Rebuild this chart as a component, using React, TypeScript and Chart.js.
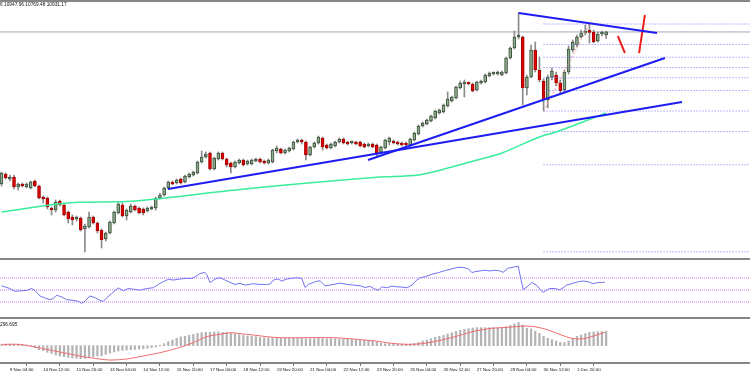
import React, { useEffect, useRef } from "react";
import { Chart, registerables } from "chart.js";
Chart.register(...registerables);

// ---- Candles (H4 bars, index 0 = 8 Nov 20:00) ----
const openP = [7130,7380,7255,7305,7055,7130,7055,7030,7205,7080,
6805,6780,6530,6480,6705,6605,6430,6305,6255,6280,
6005,6055,6305,6155,5980,5755,5905,6155,6405,6605,
6330,6430,6580,6530,6505,6455,6505,6530,6780,6855,
7030,7180,7155,7255,7180,7305,7355,7405,7680,7805,
7905,7505,7755,7905,7755,7655,7555,7655,7730,7630,
7630,7705,7755,7705,7655,7680,7955,8005,7905,7955,
8005,8180,8205,8180,7855,8055,8155,8280,8105,8030,
8080,8180,8255,8180,8155,8180,8180,8130,8080,8130,
8105,7930,8030,8180,8205,8180,8155,8155,8105,8230,
8380,8580,8630,8705,8780,8905,8930,9080,9205,9280,
9530,9630,9655,9630,9480,9655,9680,9830,9880,9880,
9855,9905,10280,10530,10805,10805,9530,9805,10480,9980,
9705,9230,9805,9855,9655,9480,9930,10480,10605,10805,
10905,10930,10930,10705,10880,10855];
const highP = [7430,7405,7355,7355,7155,7155,7155,7205,7230,7105,
6830,6805,6555,6730,6730,6630,6455,6355,6330,6305,
6130,6430,6330,6180,6005,5930,6205,6455,6680,6655,
6505,6630,6605,6555,6530,6555,6580,6805,6905,7055,
7205,7205,7255,7280,7355,7405,7455,7705,7955,7930,
7930,7805,7930,7930,7780,7680,7705,7755,7755,7730,
7755,7780,7780,7730,7755,8005,8080,8030,8005,8055,
8205,8255,8255,8205,8080,8180,8330,8305,8130,8155,
8205,8280,8280,8205,8205,8205,8205,8155,8155,8155,
8130,8080,8255,8305,8230,8205,8180,8180,8280,8430,
8605,8680,8755,8855,8980,9005,9130,9430,9330,9580,
9705,9730,9680,9655,9705,9730,9880,9930,9930,9955,
9955,10305,10555,10955,11405,10830,9855,10605,10680,10305,
9755,9855,10030,9930,9730,9980,10580,10730,10855,10980,
11105,11130,10980,10930,10955,10947.96];
const lowP = [7080,7255,7205,7005,6980,7055,7030,7005,7055,6755,
6655,6505,6355,6430,6580,6330,6155,6105,6205,5955,
5430,6030,6130,5905,5530,5705,5880,6130,6380,6305,
6230,6405,6455,6380,6355,6430,6480,6480,6755,6830,
7005,7105,7130,7130,7155,7280,7330,7380,7655,7780,
7480,7480,7730,7730,7555,7405,7530,7630,7580,7605,
7605,7680,7655,7630,7630,7655,7905,7880,7880,7930,
7980,8155,8130,7730,7830,8030,8130,7980,8005,8005,
8055,8155,8130,8105,8130,8105,8055,8030,8055,8030,
7830,7905,8005,8105,8130,8105,8080,8080,8080,8205,
8355,8555,8605,8680,8755,8880,8905,9055,9180,9255,
9505,9305,9605,9430,9455,9630,9655,9805,9855,9855,
9830,9880,10255,10505,10755,9105,9355,9780,9930,9680,
8955,9030,9730,9580,9405,9430,9880,10430,10555,10780,
10855,10655,10655,10680,10830,10769.48];
const closeP = [7405,7280,7305,7055,7130,7080,7130,7180,7080,6780,
6755,6555,6480,6680,6605,6355,6255,6230,6280,5980,
6080,6305,6155,5955,5730,5905,6180,6430,6630,6330,
6480,6580,6480,6405,6405,6530,6555,6780,6855,7030,
7180,7130,7230,7155,7330,7380,7430,7680,7805,7880,
7505,7780,7905,7755,7605,7555,7680,7730,7605,7705,
7730,7755,7680,7655,7730,7980,8030,7905,7980,8030,
8180,8205,8180,7855,8055,8155,8305,8055,8030,8130,
8180,8255,8155,8130,8180,8130,8080,8055,8130,8055,
7905,8055,8230,8280,8155,8130,8105,8105,8255,8405,
8580,8655,8730,8830,8955,8980,9105,9255,9305,9555,
9655,9655,9630,9455,9680,9705,9855,9905,9905,9930,
9930,10280,10530,10805,10830,9530,9805,10480,9980,9730,
9230,9805,9955,9655,9455,9930,10505,10680,10805,10905,
10930,10920,10680,10880,10905,10931.17];

// Moving average (read at sparse bars)
const maBars = [0, 16, 30, 37, 60, 90, 100, 108, 115, 120, 129, 133, 145];
const maValues = [6430, 6655, 6690, 6755, 7025, 7300, 7355, 7555, 7755, 7905, 8305, 8430, 8905];

// Trend lines [bar, price, bar, price]
const trendLines = [
  [124, 11405, 157.2, 10905],
  [87.9, 7730, 159.1, 10280],
  [39.9, 7005, 163.2, 9180],
];
const redStrokes = [
  [147.8, 10830, 149.5, 10405],
  [152.9, 10405, 154.3, 11355],
];
// Fibonacci retracement (from bar 130 low to bar 141 high)
const fibLow = 8955, fibHigh = 11130, fibStartBar = 130, fibEndBar = 141;
const fibLevels = [0, 23.6, 38.2, 50, 61.8, 76.4, 100, 123.6, 161.8, 261.8];
const lastPrice = 10931.17;

// RSI (sparse reads)
const rsiBars = [0,2,3.2,4.4,6,7.2,8,9.2,10.4,11.6,12.4,13.2,14.4,15.6,17.2,18.4,19.2,20,21.2,22.4,23.6,24.4,25.2,26.4,28,29.2,30.4,31.6,33.2,34.8,36.4,37.6,38.8,40,41.2,42.8,44.4,45.6,46.4,47.6,48.8,49.2,50,51.2,52.4,53.6,54.8,56,57.2,58.4,60.4,62,63.6,64.4,65.2,66.4,67.2,68.4,69.6,70.8,72,72.8,73.6,75.2,76.4,77.6,78.8,80.4,81.2,82.8,84.4,86,87.2,88.4,89.6,90.4,91.2,92.4,93.6,94.8,96,97.2,98.4,99.6,100.4,101.6,103.2,104.8,106.4,108,109.2,110.4,112,112.8,113.6,114.8,116,117.1,118.3,119.5,120.3,121.5,122.7,123.9,125.1,126.3,127.1,128.3,129.1,129.9,130.7,131.5,132.7,133.9,134.7,135.5,136.7,138.3,139.5,140.7,141.9,142.7,143.9,144.7];
const rsiValues = [57,52.5,48,48.6,49.2,52.5,49.2,40.1,36.8,34,35.6,41.3,38.5,34,32.8,31.1,27.8,31.1,40.1,37.3,32.8,31.1,36.8,44.1,53.7,48.6,52.5,51.4,49.7,52.5,53.7,59.3,63.8,67.7,66.6,68.3,69.4,69.4,71.7,77.3,79.5,76.2,62.1,68.3,70.5,66.6,62.7,59.3,61,58.2,60.4,59.3,59.3,59.8,66.6,68.3,64.9,68.3,69.4,70.5,69.4,54.2,59.3,63.8,65.5,57,58.2,60.4,61.5,59.3,58.2,57,54.2,55.9,51.4,49.7,55.3,53.7,56.5,55.3,54.8,53.7,58.2,66.6,70.5,72.2,76.2,79,82.4,85.2,87.4,88,85.2,79,80.7,81.8,82.9,81.8,82.9,81.8,79.5,86.3,88,89.7,50.8,56.5,62.7,58.2,51.4,45.8,49.7,52.5,52.5,50.3,53.7,58.2,60.4,63.8,65,63.8,60.4,62.1,62.7,62.7];
const rsiLevels = [70, 50, 30];

// MACD main (histogram, one per bar) and signal (sparse reads)
const macdHist = [12,14,15,15,14,12,8,2,-20,-46,
-58,-77,-92,-108,-119,-127,-135,-142,-146,-150,
-146,-139,-127,-119,-116,-100,-85,-73,-62,-54,
-50,-46,-42,-38,-35,-31,-23,-15,4,23,
46,65,85,100,108,119,131,142,150,154,
154,158,158,154,150,142,135,127,119,112,
108,104,96,92,89,89,89,85,85,89,
89,89,85,81,81,81,85,81,81,81,
81,77,77,77,73,69,65,62,58,54,
38,27,23,23,23,19,19,19,19,27,
38,54,65,81,96,108,119,135,150,166,
177,189,196,204,208,208,208,208,208,208,
212,219,235,250,266,239,200,193,169,142,
108,85,69,54,38,38,54,85,108,123,
139,154,158,162,162,169];
const sigBars = [0,4.4,7.6,11.6,15.6,19.6,23.6,26,30,34,38,42,46,49.2,52.4,54.8,57.2,60.4,63.6,66.8,71.6,79.6,84.4,89.6,93.6,97.6,100.8,105.6,109.6,113.6,117.5,121.5,125.5,127.9,131.1,134.3,136.7,139.1,141.5,144.7];
const sigValues = [15,15,-12,-50,-89,-127,-154,-166,-154,-119,-81,-31,35,104,131,150,139,123,104,92,92,92,77,54,27,15,23,65,116,169,200,212,227,219,181,123,85,77,104,154];
const macdMaxLabel = "296.695";

// Time axis
const tickBars = [-6,2,10,18,26,34,42,50,58,66,74,82,90,98,106,114,122,130,138];
const tickLabels = ["7 Nov 20:00","9 Nov 04:00","10 Nov 12:00","11 Nov 20:00","13 Nov 04:00","14 Nov 12:00","15 Nov 20:00","17 Nov 04:00","18 Nov 12:00","19 Nov 20:00","21 Nov 04:00","22 Nov 12:00","23 Nov 20:00","25 Nov 04:00","26 Nov 12:00","27 Nov 20:00","29 Nov 04:00","30 Nov 12:00","1 Dec 20:00"];
const headerText = "6 10947.96 10769.48 10931.17";

const X_MIN = -0.36;
const X_MAX = 179.5;
const UP_FILL = "#8caa8c";
const UP_BORDER = "#3c523c";
const DN_FILL = "#dd0000";
const DN_BORDER = "#a80000";

const seg = (a: number[], color: string, width: number, order: number, dash: number[] = []) => ({
  type: "line" as const,
  data: [{ x: a[0], y: a[1] }, { x: a[2], y: a[3] }],
  borderColor: color,
  borderWidth: width,
  borderDash: dash,
  pointRadius: 0,
  order,
});

const baseOpts = (yMin: number, yMax: number) => ({
  animation: false as const,
  responsive: false,
  events: [] as any[],
  layout: { padding: 0 },
  plugins: { legend: { display: false }, tooltip: { enabled: false } },
  scales: {
    x: { type: "linear" as const, min: X_MIN, max: X_MAX, offset: false, display: false },
    y: { type: "linear" as const, min: yMin, max: yMax, display: false },
  },
});

export default function App() {
  const mainRef = useRef<HTMLCanvasElement>(null);
  const rsiRef = useRef<HTMLCanvasElement>(null);
  const macdRef = useRef<HTMLCanvasElement>(null);

  useEffect(() => {
    const idx = openP.map((_, i) => i);
    const isUp = idx.map((i) => closeP[i] >= openP[i]);
    const fibData = fibLevels.map((lv) => {
      const p = fibHigh - (lv / 100) * (fibHigh - fibLow);
      return seg([fibStartBar, p, X_MAX + 1, p], "#7373ff", 1, 3, [1, 2]);
    });

    const main = new Chart(mainRef.current!, {
      type: "bar",
      data: {
        datasets: [
          seg([X_MIN, lastPrice, X_MAX, lastPrice], "#a3acba", 1, 9) as any,
          {
            type: "bar",
            data: idx.map((i) => ({ x: i, y: [lowP[i], highP[i]] })),
            backgroundColor: "#8a8a8a",
            barThickness: 1,
            grouped: false,
            order: 6,
          },
          {
            type: "bar",
            data: idx.map((i) => ({ x: i, y: [openP[i], closeP[i]] })),
            backgroundColor: idx.map((i) => (isUp[i] ? UP_FILL : DN_FILL)),
            borderColor: idx.map((i) => (isUp[i] ? UP_BORDER : DN_BORDER)),
            borderWidth: 1,
            borderSkipped: false,
            barThickness: 3,
            minBarLength: 2,
            grouped: false,
            order: 5,
          },
          ...fibData,
          seg([fibStartBar, fibLow, fibEndBar, fibHigh], "#f09090", 1, 3, [2, 2]),
          {
            type: "line",
            data: maBars.map((b, k) => ({ x: b, y: maValues[k] })),
            borderColor: "#3aec9c",
            borderWidth: 1.5,
            pointRadius: 0,
            tension: 0.3,
            order: 2,
          },
          ...trendLines.map((t) => seg(t, "#1d1df2", 2, 1)),
          ...redStrokes.map((t) => seg(t, "#ee2020", 2, 1)),
        ] as any,
      },
      options: baseOpts(5280, 11730) as any,
    });

    const rsi = new Chart(rsiRef.current!, {
      type: "line",
      data: {
        datasets: [
          ...rsiLevels.map((v) => seg([X_MIN, v, X_MAX, v], "#c478f2", 1, 2, [1, 1])),
          {
            type: "line",
            data: rsiBars.map((b, k) => ({ x: b, y: rsiValues[k] })),
            borderColor: "#7272ee",
            borderWidth: 1,
            pointRadius: 0,
            order: 1,
          },
        ] as any,
      },
      options: baseOpts(0, 100) as any,
    });

    const macdOpts: any = baseOpts(-200, 308);
    macdOpts.scales.x = {
      type: "linear",
      min: X_MIN,
      max: X_MAX,
      offset: false,
      display: true,
      position: "bottom",
      afterBuildTicks: (s: any) => {
        s.ticks = tickBars.map((v) => ({ value: v }));
      },
      afterFit: (s: any) => {
        s.height = 12;
        s.paddingLeft = 0;
        s.paddingRight = 0;
      },
      ticks: {
        autoSkip: false,
        maxRotation: 0,
        minRotation: 0,
        align: "start",
        padding: 1,
        color: "#111",
        font: { family: "Liberation Sans", size: 4.4 },
        callback: (_v: any, i: number) => tickLabels[i],
      },
      grid: { display: true, drawOnChartArea: false, drawTicks: true, tickLength: 3, color: "#777", lineWidth: 1 },
      border: { display: false },
    };
    const macd = new Chart(macdRef.current!, {
      type: "bar",
      data: {
        datasets: [
          {
            type: "line",
            data: sigBars.map((b, k) => ({ x: b, y: sigValues[k] })),
            borderColor: "#f06a6a",
            borderWidth: 1,
            pointRadius: 0,
            tension: 0.3,
            order: 1,
          },
          {
            type: "bar",
            data: macdHist.map((v, i) => ({ x: i, y: v })),
            backgroundColor: "#b4b4b4",
            barThickness: 1.6,
            grouped: false,
            order: 2,
          },
        ] as any,
      },
      options: macdOpts,
    });

    return () => {
      main.destroy();
      rsi.destroy();
      macd.destroy();
    };
  }, []);

  const line = (top: number) => (
    <div style={{ position: "absolute", left: 0, top, width: 750, height: 2, background: "#858585" }} />
  );
  const small: React.CSSProperties = {
    position: "absolute",
    left: 0,
    fontFamily: "Liberation Sans, Arial, sans-serif",
    fontSize: 4.8,
    lineHeight: 1,
    color: "#111",
    whiteSpace: "nowrap",
  };

  return (
    <div style={{ position: "absolute", left: 0, top: 0, width: 750, height: 375, background: "#fff", overflow: "hidden" }}>
      <canvas ref={mainRef} width={750} height={258} style={{ position: "absolute", left: 0, top: 0, display: "block" }} />
      <canvas ref={rsiRef} width={750} height={60} style={{ position: "absolute", left: 0, top: 260, display: "block" }} />
      <canvas ref={macdRef} width={750} height={56} style={{ position: "absolute", left: 0, top: 319, display: "block" }} />
      {line(0)}
      {line(258)}
      {line(317)}
      {line(362)}
      <div style={{ ...small, top: 3 }}>{headerText}</div>
      <div style={{ ...small, top: 322.5 }}>{macdMaxLabel}</div>
    </div>
  );
}
